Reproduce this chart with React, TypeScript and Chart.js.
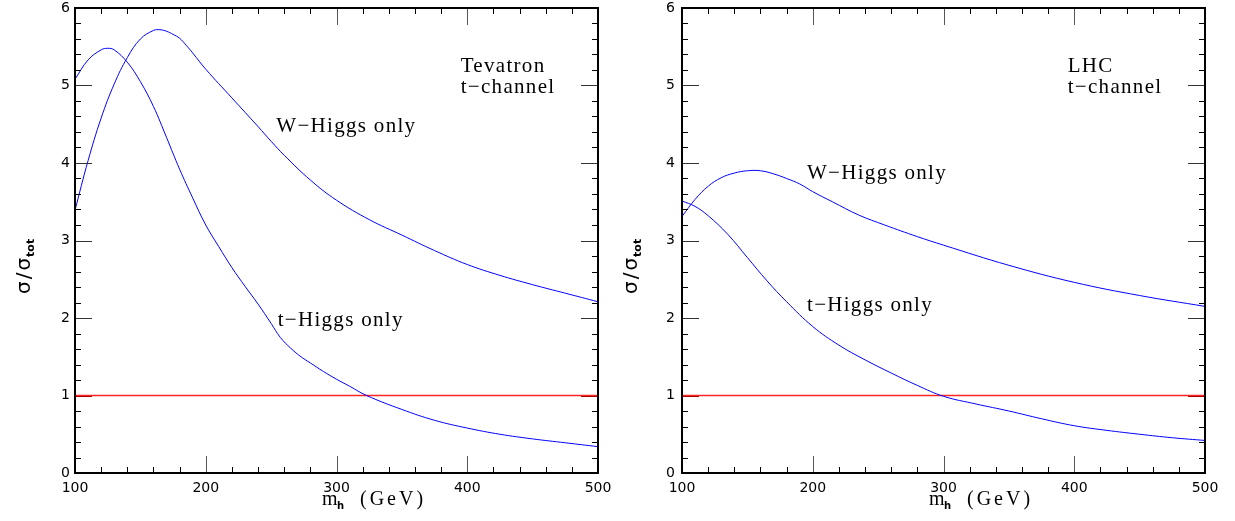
import React, { useEffect, useRef } from 'react';
import { Chart, registerables } from 'chart.js';

Chart.register(...registerables);

// ---------- data ----------
const tevWMass = [100, 110, 120, 130, 140, 150, 160, 165, 170, 175, 180, 185, 190, 200, 220, 240, 250, 260, 280, 300, 325, 350, 375, 400, 425, 450, 475, 500];
const tevWRatio = [3.39, 4.03, 4.58, 5.02, 5.36, 5.6, 5.71, 5.72, 5.7, 5.66, 5.61, 5.52, 5.42, 5.21, 4.84, 4.47, 4.28, 4.1, 3.78, 3.52, 3.27, 3.07, 2.87, 2.69, 2.55, 2.43, 2.32, 2.21];

const tevTMass = [100, 110, 120, 125, 130, 140, 150, 160, 170, 180, 190, 200, 210, 220, 230, 240, 250, 257, 265, 272, 280, 290, 300, 310, 323, 350, 375, 400, 425, 450, 475, 500];
const tevTRatio = [5.08, 5.33, 5.46, 5.48, 5.46, 5.3, 5.05, 4.73, 4.33, 3.92, 3.55, 3.2, 2.92, 2.65, 2.41, 2.18, 1.93, 1.75, 1.61, 1.51, 1.42, 1.31, 1.21, 1.12, 1.0, 0.82, 0.68, 0.58, 0.5, 0.44, 0.39, 0.34];

const lhcWMass = [100, 110, 120, 130, 140, 150, 160, 170, 180, 190, 200, 215, 235, 255, 280, 300, 350, 400, 450, 500];
const lhcWRatio = [3.31, 3.53, 3.7, 3.81, 3.87, 3.9, 3.9, 3.86, 3.8, 3.73, 3.63, 3.5, 3.33, 3.2, 3.05, 2.94, 2.68, 2.46, 2.29, 2.15];

const lhcTMass = [100, 110, 120, 135, 150, 165, 180, 200, 220, 240, 260, 280, 300, 325, 350, 375, 400, 425, 450, 475, 500];
const lhcTRatio = [3.51, 3.44, 3.32, 3.08, 2.78, 2.48, 2.21, 1.89, 1.65, 1.46, 1.29, 1.13, 0.99, 0.89, 0.8, 0.7, 0.61, 0.55, 0.5, 0.455, 0.42];

const refMass = [100, 500];
const refRatio = [1, 1];

const xTickValues = [100, 200, 300, 400, 500];
const yTickValues = [0, 1, 2, 3, 4, 5, 6];

// ---------- helpers ----------
const pts = (xs: number[], ys: number[]) => xs.map((x, i) => ({ x, y: ys[i] }));

type Note = { text: string; x: number; y: number };

const framePlugin = {
  id: 'frame',
  afterDatasetsDraw(chart: any, _args: any, opts: any) {
    const { ctx, chartArea: a, scales } = chart;
    const xs = scales.x;
    const ys = scales.y;
    ctx.save();
    ctx.strokeStyle = '#000';
    ctx.lineWidth = 1;
    const seg = (x1: number, y1: number, x2: number, y2: number) => {
      ctx.beginPath();
      ctx.moveTo(x1, y1);
      ctx.lineTo(x2, y2);
      ctx.stroke();
    };
    // x ticks (inward, top and bottom)
    for (let k = 0; k <= 20; k++) {
      const v = 100 + k * 20;
      const px = Math.round(xs.getPixelForValue(v)) + 0.5;
      const len = k % 5 === 0 ? 17 : 6;
      ctx.strokeStyle = k % 5 === 0 ? '#555' : '#000';
      seg(px, a.bottom, px, a.bottom - len);
      seg(px, a.top, px, a.top + len);
    }
    // y ticks (inward, left and right)
    for (let k = 0; k <= 30; k++) {
      const v = k * 0.2;
      const py = Math.round(ys.getPixelForValue(v)) + 0.5;
      const len = k % 5 === 0 ? 17 : 6;
      ctx.strokeStyle = k % 5 === 0 ? '#333' : '#000';
      if (k === 5) ctx.strokeStyle = '#a00';
      seg(a.left, py, a.left + len, py);
      seg(a.right, py, a.right - len, py);
    }
    // frame
    ctx.strokeStyle = '#000';
    ctx.lineWidth = 2;
    ctx.strokeRect(a.left, a.top, a.right - a.left, a.bottom - a.top);

    // annotations
    ctx.fillStyle = '#000';
    ctx.textBaseline = 'alphabetic';
    ctx.textAlign = 'left';
    ctx.font = '21px "Liberation Serif"';
    (ctx as any).letterSpacing = '1.3px';
    (opts.notes as Note[]).forEach((n) => {
      ctx.fillText(n.text, xs.getPixelForValue(n.x), ys.getPixelForValue(n.y));
    });

    // x axis title: m_h  (GeV)
    const tx = a.left + 247;
    const ty = 505;
    ctx.font = '20px "Liberation Serif"';
    (ctx as any).letterSpacing = '0px';
    ctx.fillText('m', tx, ty);
    ctx.font = 'bold 10px "DejaVu Sans"';
    ctx.fillText('h', tx + 15, ty + 4);
    ctx.font = '20px "Liberation Serif"';
    (ctx as any).letterSpacing = '3px';
    ctx.fillText('(GeV)', tx + 38, ty);

    // y axis title: sigma / sigma_tot
    (ctx as any).letterSpacing = '0px';
    ctx.translate(a.left - 45, 294);
    ctx.rotate(-Math.PI / 2);
    ctx.font = '20px "DejaVu Sans"';
    let cx = 0;
    ctx.fillText('σ', cx, 0);
    cx += ctx.measureText('σ').width + 2;
    ctx.fillText('/', cx, 0);
    cx += ctx.measureText('/').width + 2;
    ctx.fillText('σ', cx, 0);
    cx += ctx.measureText('σ').width + 1;
    ctx.font = 'bold 11px "DejaVu Sans"';
    ctx.fillText('tot', cx, 4);
    ctx.restore();
  },
};

type PanelProps = {
  left: number;
  width: number;
  plotLeft: number;
  plotRight: number;
  wMass: number[];
  wRatio: number[];
  tMass: number[];
  tRatio: number[];
  notes: Note[];
  yLabelPad: number;
};

function Panel(p: PanelProps) {
  const ref = useRef<HTMLCanvasElement | null>(null);
  useEffect(() => {
    if (!ref.current) return;
    const line = (label: string, data: any[]) => ({
      label,
      data,
      borderColor: '#0000ff',
      borderWidth: 1,
      pointRadius: 0,
      tension: 0.4,
      fill: false,
    });
    const chart = new Chart(ref.current, {
      type: 'line',
      data: {
        datasets: [
          line('W-Higgs only', pts(p.wMass, p.wRatio)),
          line('t-Higgs only', pts(p.tMass, p.tRatio)),
          {
            label: 'total',
            data: pts(refMass, refRatio),
            borderColor: 'rgba(255,0,0,0.85)',
            borderWidth: 1.5,
            pointRadius: 0,
            fill: false,
          },
        ],
      },
      options: {
        animation: false,
        responsive: false,
        maintainAspectRatio: false,
        layout: { padding: { top: 8, left: 0, bottom: 0, right: p.width - p.plotRight } },
        plugins: {
          legend: { display: false },
          tooltip: { enabled: false },
          frame: { notes: p.notes },
        } as any,
        scales: {
          x: {
            type: 'linear',
            min: 100,
            max: 500,
            afterFit: (s: any) => {
              s.height = 48;
              s.paddingLeft = 0;
              s.paddingRight = 0;
            },
            afterBuildTicks: (s: any) => {
              s.ticks = xTickValues.map((v) => ({ value: v }));
            },
            grid: { display: false, drawTicks: false },
            border: { display: false },
            ticks: {
              padding: 7,
              color: '#000',
              font: { family: '"DejaVu Sans"', size: 14 },
              maxRotation: 0,
            },
          },
          y: {
            type: 'linear',
            min: 0,
            max: 6,
            afterFit: (s: any) => {
              s.width = p.plotLeft;
              s.paddingTop = 0;
              s.paddingBottom = 0;
            },
            afterBuildTicks: (s: any) => {
              s.ticks = yTickValues.map((v) => ({ value: v }));
            },
            grid: { display: false, drawTicks: false },
            border: { display: false },
            ticks: {
              padding: p.yLabelPad,
              color: '#000',
              font: { family: '"DejaVu Sans"', size: 14, lineHeight: 1 },
            },
          },
        },
      },
      plugins: [framePlugin as any],
    });
    return () => chart.destroy();
  }, []);
  return (
    <canvas
      ref={ref}
      width={p.width}
      height={521}
      style={{ position: 'absolute', left: p.left, top: 0, width: p.width, height: 521 }}
    />
  );
}

const tevNotes: Note[] = [
  { text: 'Tevatron', x: 395, y: 5.17 },
  { text: 't−channel', x: 395, y: 4.9 },
  { text: 'W−Higgs only', x: 254, y: 4.4 },
  { text: 't−Higgs only', x: 255, y: 1.9 },
];

const lhcNotes: Note[] = [
  { text: 'LHC', x: 395, y: 5.17 },
  { text: 't−channel', x: 395, y: 4.9 },
  { text: 'W−Higgs only', x: 195.6, y: 3.79 },
  { text: 't−Higgs only', x: 195.6, y: 2.09 },
];

export default function App() {
  return (
    <div style={{ position: 'absolute', left: 0, top: 0, width: 1235, height: 521, background: '#fff' }}>
      <Panel
        left={0}
        width={617}
        plotLeft={75}
        plotRight={598}
        wMass={tevWMass}
        wRatio={tevWRatio}
        tMass={tevTMass}
        tRatio={tevTRatio}
        notes={tevNotes}
        yLabelPad={5}
      />
      <Panel
        left={617}
        width={618}
        plotLeft={65}
        plotRight={588}
        wMass={lhcWMass}
        wRatio={lhcWRatio}
        tMass={lhcTMass}
        tRatio={lhcTRatio}
        notes={lhcNotes}
        yLabelPad={7}
      />
    </div>
  );
}
